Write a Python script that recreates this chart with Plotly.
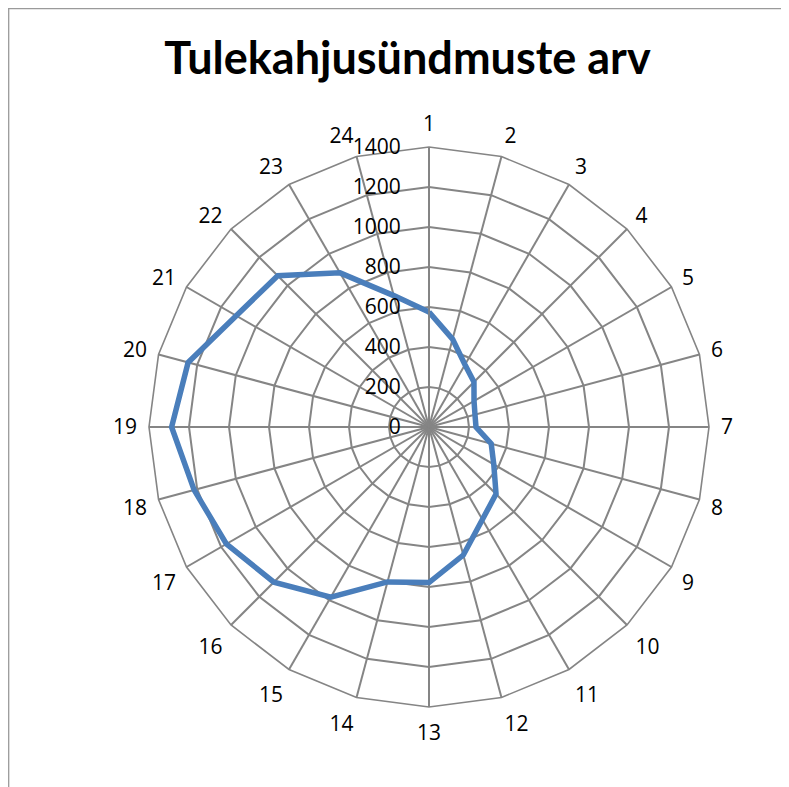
import plotly.graph_objects as go

categories = [str(i) for i in range(1, 25)]
values = [575, 455, 360, 318, 260, 238, 235, 322, 374, 474, 534, 663,
          778, 802, 982, 1097, 1170, 1216, 1287, 1247, 1113, 1070, 890, 680]
radial_ticks = [0, 200, 400, 600, 800, 1000, 1200, 1400]
title_text = "Tulekahjusündmuste arv"

# page body has an 8px margin, so the figure is 8px smaller than the window
W, H = 781, 779
cx, cy, R = 421, 419, 280

fig = go.Figure()
fig.add_trace(go.Scatterpolar(
    r=values + values[:1],
    theta=categories + categories[:1],
    mode="lines",
    line=dict(color="#4A7EBB", width=5.5),
    showlegend=False,
    hoverinfo="skip",
))

grid_col = "#858585"
fig.update_layout(
    width=W, height=H,
    margin=dict(l=0, r=0, t=0, b=0),
    paper_bgcolor="white",
    plot_bgcolor="white",
    title=dict(text="<b>" + title_text + "</b>", x=399.5 / W, xanchor="center",
               y=1 - 50 / H, yanchor="middle",
               font=dict(family="Lato", size=45, color="black")),
    polar=dict(
        domain=dict(x=[(cx - R) / W, (cx + R) / W],
                    y=[(H - cy - R) / H, (H - cy + R) / H]),
        bgcolor="white",
        gridshape="linear",
        angularaxis=dict(
            rotation=90, direction="clockwise",
            type="category", categoryarray=categories,
            showline=True, linecolor=grid_col, linewidth=1.6,
            gridcolor=grid_col, gridwidth=1.6,
            ticks="outside", ticklen=7, tickcolor="rgba(0,0,0,0)",
            tickfont=dict(family="Open Sans", size=21, color="black"),
        ),
        radialaxis=dict(
            range=[0, 1400], tickvals=radial_ticks,
            ticktext=[str(v) for v in radial_ticks],
            angle=90, side="counterclockwise", tickangle=90,
            showline=True, linecolor=grid_col, linewidth=1.6,
            gridcolor=grid_col, gridwidth=1.6,
            ticks="outside", ticklen=20, tickcolor="rgba(0,0,0,0)",
            tickfont=dict(family="Open Sans", size=21, color="black"),
        ),
    ),
    shapes=[
        dict(type="line", xref="paper", yref="paper",
             x0=0.7 / W, x1=0.7 / W, y0=0, y1=1,
             line=dict(color="#9a9a9a", width=1.3)),
        dict(type="line", xref="paper", yref="paper",
             x0=0, x1=1, y0=1 - 0.7 / H, y1=1 - 0.7 / H,
             line=dict(color="#9a9a9a", width=1.3)),
    ],
)

fig.write_html("out.html")
